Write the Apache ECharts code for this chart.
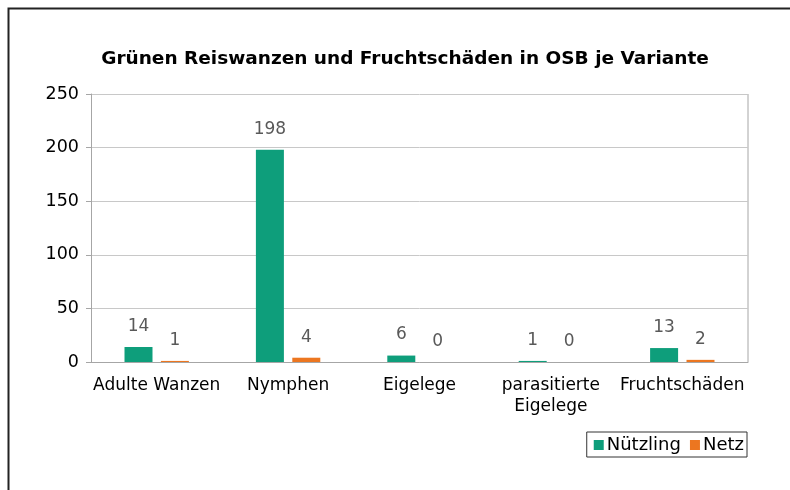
<!DOCTYPE html>
<html>
<head>
<meta charset="utf-8">
<script src="https://cdn.jsdelivr.net/npm/echarts@6/dist/echarts.min.js"></script>
<style>html,body{margin:0;padding:0;background:#fff;}#c{width:790px;height:490px;}</style>
</head>
<body>
<div id="c"></div>
<script>
var categories = ['Adulte Wanzen', 'Nymphen', 'Eigelege', 'parasitierte\nEigelege', 'Fruchtschäden'];
var nuetzling = [14, 198, 6, 1, 13];
var netz = [1, 4, 0, 0, 2];
var yTicks = [0, 50, 100, 150, 200, 250];

var font = '"DejaVu Sans", "Liberation Sans", Arial, sans-serif';
var chart = echarts.init(document.getElementById('c'));
chart.setOption({
  animation: false,
  textStyle: { fontFamily: font },
  graphic: [{
    type: 'rect', left: 6, top: 6, shape: { x: 0, y: 0, width: 800, height: 500 },
    style: { fill: 'none', stroke: '#222', lineWidth: 2 }
  }, {
    type: 'line', shape: { x1: 748, y1: 94, x2: 748, y2: 362 },
    style: { stroke: '#a6a6a6', lineWidth: 1 }
  }],
  title: {
    text: 'Grünen Reiswanzen und Fruchtschäden in OSB je Variante',
    left: 400, textAlign: 'center', top: 45,
    textStyle: { fontFamily: font, fontSize: 18.5, fontWeight: 'bold', color: '#000' }
  },
  legend: {
    right: 43, top: 432, itemWidth: 10, itemHeight: 10, itemGap: 9,
    borderColor: '#333', borderWidth: 1, padding: [4, 3, 3, 7],
    textStyle: { fontFamily: font, fontSize: 18, color: '#000', padding: [0, 0, 0, -2] },
    data: [{ name: 'Nützling', icon: 'rect' }, { name: 'Netz', icon: 'rect' }]
  },
  grid: { left: 91, right: 42, top: 94, bottom: 128 },
  xAxis: {
    type: 'category', data: categories,
    axisLine: { lineStyle: { color: '#a6a6a6' } },
    axisTick: { show: false },
    axisLabel: { fontFamily: font, fontSize: 17, color: '#000', margin: 13, lineHeight: 21, interval: 0 }
  },
  yAxis: {
    type: 'value', min: yTicks[0], max: yTicks[yTicks.length - 1], interval: 50,
    axisLine: { show: true, lineStyle: { color: '#a6a6a6' } },
    axisTick: { show: true, length: 5, lineStyle: { color: '#a6a6a6' } },
    splitLine: { lineStyle: { color: '#c8c8c8' } },
    axisLabel: { fontFamily: font, fontSize: 17.5, color: '#000', margin: 12 }
  },
  series: [{
    name: 'Nützling', type: 'bar', data: nuetzling, barWidth: 28, barGap: '30%',
    itemStyle: { color: '#0e9e7b' },
    label: { show: true, position: 'top', distance: 12, fontFamily: font, fontSize: 17, color: '#595959' }
  }, {
    name: 'Netz', type: 'bar', data: netz, barWidth: 28,
    itemStyle: { color: '#ec7620' },
    label: { show: true, position: 'top', distance: 12, fontFamily: font, fontSize: 17, color: '#595959' }
  }]
});
</script>
</body>
</html>
